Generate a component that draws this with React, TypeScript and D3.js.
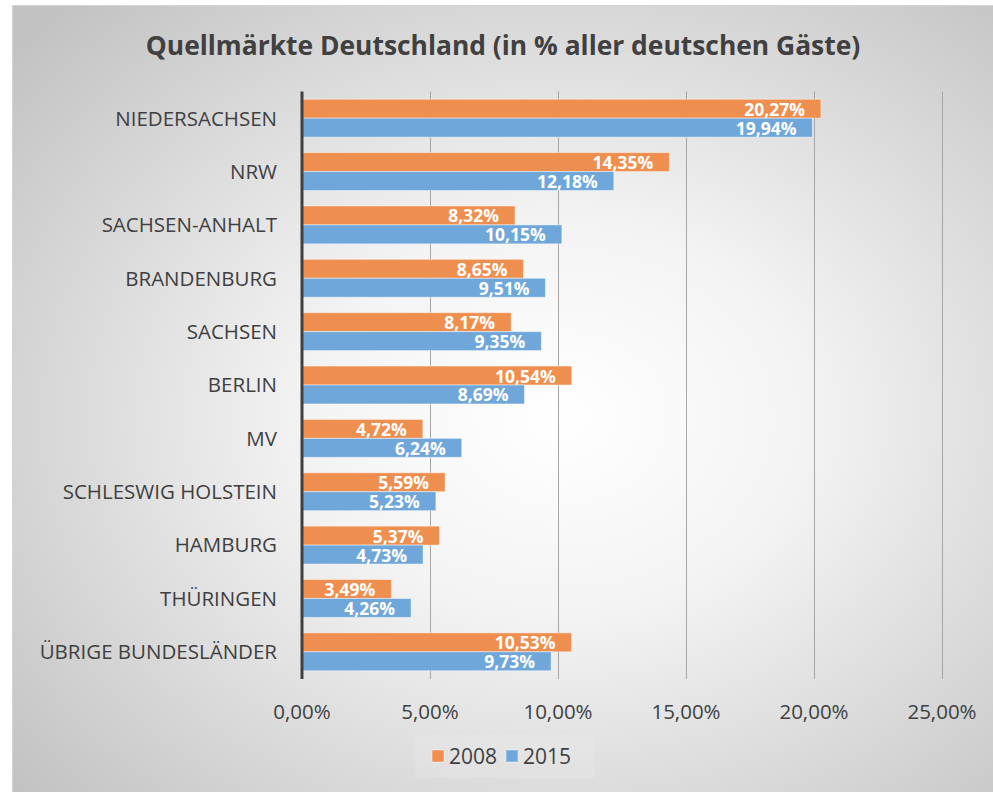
import React, { useEffect, useRef } from 'react';
import * as d3 from 'd3';

// Daten
const categories = [
  'NIEDERSACHSEN',
  'NRW',
  'SACHSEN-ANHALT',
  'BRANDENBURG',
  'SACHSEN',
  'BERLIN',
  'MV',
  'SCHLESWIG HOLSTEIN',
  'HAMBURG',
  'THÜRINGEN',
  'ÜBRIGE BUNDESLÄNDER',
];
const values2008 = [20.27, 14.35, 8.32, 8.65, 8.17, 10.54, 4.72, 5.59, 5.37, 3.49, 10.53];
const values2015 = [19.94, 12.18, 10.15, 9.51, 9.35, 8.69, 6.24, 5.23, 4.73, 4.26, 9.73];
const seriesNames = ['2008', '2015'];
const xTicks = [0, 5, 10, 15, 20, 25];

const FONT = '"Open Sans", "Liberation Sans", sans-serif';
const fmt = (v: number) => v.toFixed(2).replace('.', ',') + '%';

const App = () => {
  const ref = useRef<SVGSVGElement>(null);

  useEffect(() => {
    const root = d3.select(ref.current);
    root.selectAll('*').remove();

    const width = 993;
    const height = 792;
    const colors: Record<string, string> = { '2008': '#EF8F4F', '2015': '#70A7DA' };

    // Hintergrund mit radialem Verlauf
    const defs = root.append('defs');
    const grad = defs.append('radialGradient')
      .attr('id', 'bg')
      .attr('cx', '55%').attr('cy', '52%').attr('r', '72%');
    grad.append('stop').attr('offset', '0%').attr('stop-color', '#ffffff');
    grad.append('stop').attr('offset', '35%').attr('stop-color', '#f3f3f3');
    grad.append('stop').attr('offset', '100%').attr('stop-color', '#c2c2c2');

    root.append('rect').attr('width', width).attr('height', height).attr('fill', '#ffffff');
    root.append('rect')
      .attr('x', 12.5).attr('y', 5.5)
      .attr('width', width).attr('height', height)
      .attr('fill', 'url(#bg)')
      .attr('stroke', '#d4d4d4');

    // Titel
    root.append('text')
      .attr('x', 503).attr('y', 55)
      .attr('text-anchor', 'middle')
      .attr('font-family', FONT)
      .attr('font-weight', 'bold')
      .attr('font-size', 26.4)
      .attr('fill', '#404040')
      .text('Quellmärkte Deutschland (in % aller deutschen Gäste)');

    // Skalen
    const x = d3.scaleLinear().domain([0, 25]).range([302, 942]);
    const y = d3.scaleBand<string>()
      .domain(categories)
      .range([91.5, 678.5])
      .paddingInner(0.29)
      .paddingOuter(0.145);
    const ySub = d3.scaleBand<string>().domain(seriesNames).range([0, y.bandwidth()]);

    // Gitterlinien
    root.append('g')
      .selectAll('line')
      .data(xTicks.slice(1))
      .enter().append('line')
      .attr('x1', d => Math.round(x(d)) + 0.5)
      .attr('x2', d => Math.round(x(d)) + 0.5)
      .attr('y1', 91.5).attr('y2', 679)
      .attr('stroke', '#a6a6a6')
      .attr('stroke-width', 1);

    // Balken
    const rows = categories.map((c, i) => ({ c, vals: [values2008[i], values2015[i]] }));
    const groups = root.append('g')
      .selectAll('g')
      .data(rows)
      .enter().append('g')
      .attr('transform', d => `translate(0, ${y(d.c)})`);

    seriesNames.forEach((s, si) => {
      groups.append('rect')
        .attr('x', x(0))
        .attr('y', ySub(s)!)
        .attr('width', d => x(d.vals[si]) - x(0))
        .attr('height', ySub.bandwidth())
        .attr('fill', colors[s])
        .attr('stroke', 'rgba(255,255,255,0.45)')
        .attr('stroke-width', 1);

      groups.append('text')
        .attr('x', d => x(d.vals[si]) - 16)
        .attr('y', ySub(s)! + ySub.bandwidth() / 2)
        .attr('dy', '0.4em')
        .attr('text-anchor', 'end')
        .attr('font-family', FONT)
        .attr('font-weight', 'bold')
        .attr('font-size', 17.5)
        .attr('fill', '#ffffff')
        .text(d => fmt(d.vals[si]));
    });

    // Achse (vertikal)
    root.append('line')
      .attr('x1', x(0)).attr('x2', x(0))
      .attr('y1', 91.5).attr('y2', 679)
      .attr('stroke', '#404040')
      .attr('stroke-width', 3);

    // Kategorien
    root.append('g')
      .selectAll('text')
      .data(categories)
      .enter().append('text')
      .attr('x', 277)
      .attr('y', d => y(d)! + y.bandwidth() / 2)
      .attr('dy', '0.36em')
      .attr('text-anchor', 'end')
      .attr('font-family', FONT)
      .attr('font-size', 20.5)
      .attr('fill', '#404040')
      .text(d => d);

    // X-Achsenbeschriftung
    root.append('g')
      .selectAll('text')
      .data(xTicks)
      .enter().append('text')
      .attr('x', d => x(d))
      .attr('y', 712)
      .attr('dy', '0.36em')
      .attr('text-anchor', 'middle')
      .attr('font-family', FONT)
      .attr('font-size', 20.5)
      .attr('fill', '#404040')
      .text(d => fmt(d));

    // Legende
    const legend = root.append('g');
    legend.append('rect')
      .attr('x', 415).attr('y', 735)
      .attr('width', 180).attr('height', 43)
      .attr('fill', 'rgba(255,255,255,0.12)');
    const legendX = [432, 506];
    seriesNames.forEach((s, i) => {
      legend.append('rect')
        .attr('x', legendX[i]).attr('y', 750)
        .attr('width', 12).attr('height', 12)
        .attr('fill', colors[s])
        .attr('stroke', 'rgba(255,255,255,0.45)');
      legend.append('text')
        .attr('x', legendX[i] + 17)
        .attr('y', 756)
        .attr('dy', '0.36em')
        .attr('font-family', FONT)
        .attr('font-size', 21)
        .attr('fill', '#404040')
        .text(s);
    });
  }, []);

  return (
    <svg
      ref={ref}
      width={993}
      height={792}
      style={{ position: 'absolute', left: 0, top: 0, display: 'block' }}
    />
  );
};

export default App;
